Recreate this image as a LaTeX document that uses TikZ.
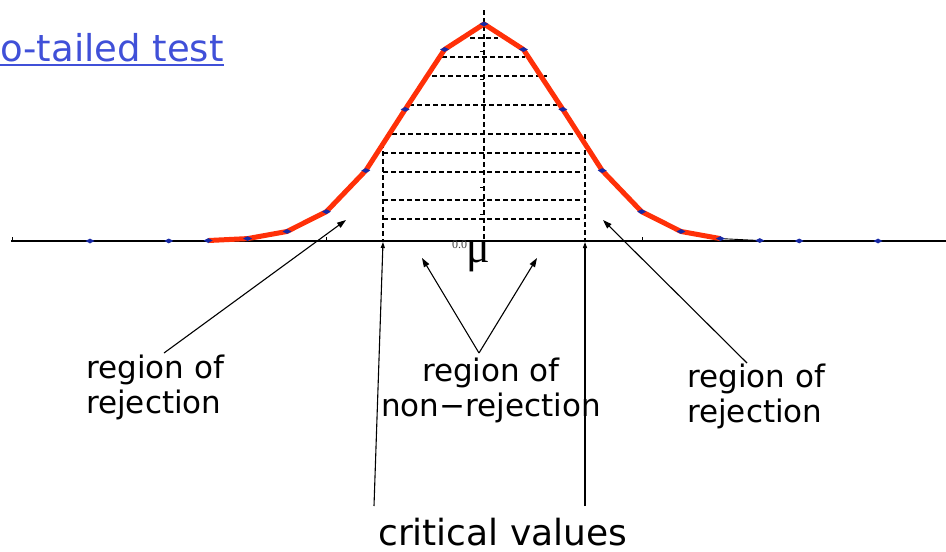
\documentclass[tikz,border=0pt]{standalone}
\usepackage{fontspec}
\setmainfont{DejaVu Sans}
\newfontfamily\serifgr{Liberation Serif}
\usepackage{xcolor}
\usetikzlibrary{arrows.meta,positioning,calc}
\definecolor{curvered}{RGB}{255,48,8}
\definecolor{dotblue}{RGB}{22,40,165}
\definecolor{titleblue}{RGB}{64,80,216}

\begin{document}
\begin{tikzpicture}[x=1pt,y=-1pt,
  lbl/.style={font=\fontsize{31}{35}\selectfont,inner sep=0pt},
  gridline/.style={dash pattern=on 5pt off 3pt,line width=1.1pt},
  pointer/.style={line width=1.1pt,-{Triangle[length=9pt,width=6pt]}},
  critptr/.style={line width=1.1pt,-{Triangle[length=6pt,width=4pt]}}]
\useasboundingbox (0,0) rectangle (946,552);
\def\ax{241}
\def\cx{484}
\def\dk{39.4}
\def\pk{217}
% dashed grid under the curve
\draw[gridline] (\cx,10) -- (\cx,\ax);
\draw[gridline] (383,143) -- (383,\ax);
\draw[gridline] (585,134) -- (585,\ax);
\foreach \yy/\xa/\xb in {38/470/498,57/442/525,76/432/547,105/409/557,134/392/583,
                         153/383/583,172/383/583,200/383/583,219/383/583}
  \draw[gridline] (\xa,\yy) -- (\xb,\yy);
\foreach \yy in {51,79,133,187,214}
  \draw[line width=0.8pt] (480,\yy) -- (\cx,\yy);
% axis
\draw[line width=1.4pt] (11,\ax) -- (946,\ax);
\foreach \xx in {12,326,642}
  \draw[line width=0.8pt] (\xx,\ax) -- (\xx,\ax-4);
% curve
\draw[line width=0.9pt] plot[domain=6:10,samples=5] ({\cx+\dk*\x},{\ax-\pk*exp(-0.125*\x*\x)});
\draw[curvered,line width=5pt,line join=round] plot[domain=-7:6,samples=14]
  ({\cx+\dk*\x},{\ax-\pk*exp(-0.125*\x*\x)});
\foreach \k in {-10,-8,-7,...,8,10}{
  \pgfmathsetmacro\py{\ax-\pk*exp(-0.125*\k*\k)}
  \fill[dotblue] ({\cx+\dk*\k},\py) +(-4.5,0) -- +(0,-2.4) -- +(4.5,0) -- +(0,2.4) -- cycle;
}
% labels
\node[font=\fontsize{37}{40}\selectfont,text=titleblue,anchor=base west,inner sep=0pt] (title) at (0,61) {o-tailed test};
\draw[titleblue,line width=2pt] ([yshift=-4pt]title.base west) -- ([yshift=-4pt]title.base east);
\node[font=\serifgr\fontsize{12}{12}\selectfont,text=black!75,anchor=base west,inner sep=0pt] (zero) at (452,248) {0.0};
\node[font=\serifgr\fontsize{44}{44}\selectfont,anchor=base,inner sep=0pt] (mu) at (478,262) {μ};
\node[lbl,anchor=base west,align=left] (rejL) at (86,413) {region of\\rejection};
\node[lbl,anchor=base,align=center] (nonrej) at (491,416) {region of\\non−rejection};
\node[lbl,anchor=base west,align=left] (rejR) at (687,422) {region of\\rejection};
\node[font=\fontsize{36}{40}\selectfont,anchor=base west,inner sep=0pt] (crit) at (378,545) {critical values};
% arrows
\coordinate (rejLtail) at (164,353);
\coordinate (rejLhead) at (346,220);
\coordinate (nonrejtail) at (479,353);
\coordinate (nonrejL) at (422,258);
\coordinate (nonrejR) at (537,258);
\coordinate (rejRtail) at (747,363);
\coordinate (rejRhead) at (603,220);
\coordinate (critLtail) at (374,506);
\coordinate (critLhead) at (383,242);
\coordinate (critRtail) at (585,506);
\coordinate (critRhead) at (585,242);
\draw[pointer] (rejLtail) -- (rejLhead);
\draw[pointer] (nonrejtail) -- (nonrejL);
\draw[pointer] (nonrejtail) -- (nonrejR);
\draw[pointer] (rejRtail) -- (rejRhead);
\draw[critptr] (critLtail) -- (critLhead);
\draw[critptr] (critRtail) -- (critRhead);
\end{tikzpicture}
\end{document}
